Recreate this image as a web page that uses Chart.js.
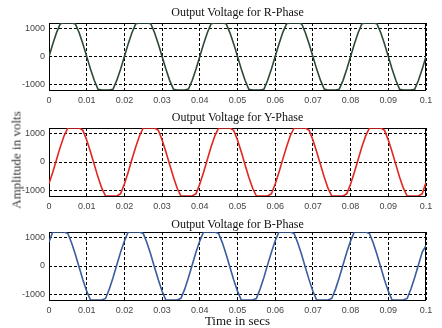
<!DOCTYPE html>
<html>
<head>
<meta charset="utf-8">
<script src="https://cdn.jsdelivr.net/npm/chart.js@4/dist/chart.umd.min.js"></script>
<style>
  html, body { margin: 0; padding: 0; background: #fff; }
  #fig { position: relative; width: 442px; height: 328px; overflow: hidden; background: #fff; }
  #fig canvas { position: absolute; left: 0; }
  .ttl { position: absolute; left: 49px; width: 377px; text-align: center; white-space: nowrap;
         font-family: "Liberation Serif", "Times New Roman", serif; font-size: 12px; font-weight: 400; line-height: 14px; color: #111; }
  .xlab { position: absolute; left: 49px; width: 377px; top: 313px; text-align: center;
          font-family: "Liberation Serif", "Times New Roman", serif; font-size: 13px; font-weight: 400; line-height: 15px; color: #111; }
  .ylab { position: absolute; left: 16px; top: 160px; transform: translate(-50%, -50%) rotate(-90deg); white-space: nowrap;
          font-family: "Liberation Serif", "Times New Roman", serif; font-size: 13px; font-weight: 400; line-height: 15px; color: #333; }
</style>
</head>
<body>
<div id="fig">
  <canvas id="rPlot" width="442" height="110" style="top:0px"></canvas>
  <canvas id="yPlot" width="442" height="105" style="top:110px"></canvas>
  <canvas id="bPlot" width="442" height="113" style="top:215px"></canvas>
  <div class="ttl" style="top:5px">Output Voltage for R-Phase</div>
  <div class="ttl" style="top:110px">Output Voltage for Y-Phase</div>
  <div class="ttl" style="top:217px">Output Voltage for B-Phase</div>
  <div class="ylab">Amplitude in volts</div>
  <div class="xlab">Time in secs</div>
</div>
<script>
// Sample instants (s)
const timeSecs = [
  0, 0.001, 0.002, 0.003, 0.004, 0.005, 0.006, 0.007, 0.008, 0.009,
  0.010, 0.011, 0.012, 0.013, 0.014, 0.015, 0.016, 0.017, 0.018, 0.019,
  0.020, 0.021, 0.022, 0.023, 0.024, 0.025, 0.026, 0.027, 0.028, 0.029,
  0.030, 0.031, 0.032, 0.033, 0.034, 0.035, 0.036, 0.037, 0.038, 0.039,
  0.040, 0.041, 0.042, 0.043, 0.044, 0.045, 0.046, 0.047, 0.048, 0.049,
  0.050, 0.051, 0.052, 0.053, 0.054, 0.055, 0.056, 0.057, 0.058, 0.059,
  0.060, 0.061, 0.062, 0.063, 0.064, 0.065, 0.066, 0.067, 0.068, 0.069,
  0.070, 0.071, 0.072, 0.073, 0.074, 0.075, 0.076, 0.077, 0.078, 0.079,
  0.080, 0.081, 0.082, 0.083, 0.084, 0.085, 0.086, 0.087, 0.088, 0.089,
  0.090, 0.091, 0.092, 0.093, 0.094, 0.095, 0.096, 0.097, 0.098, 0.099,
  0.100
];

// Phase output voltages (V), one value per sample instant
const rPhaseVolts = [
  0, 448, 855, 1172, 1200, 1200, 1200, 1168, 850, 446, 5, -450, -852, -1175, -1200, -1200, -1200, -1170, -848, -444,
  2, 452, 850, 1170, 1200, 1200, 1200, 1172, 854, 450, -3, -446, -855, -1170, -1200, -1200, -1200, -1168, -852, -450,
  0, 446, 852, 1175, 1200, 1200, 1200, 1170, 848, 452, 4, -448, -850, -1172, -1200, -1200, -1200, -1174, -850, -446,
  -2, 450, 856, 1170, 1200, 1200, 1200, 1175, 852, 448, 0, -452, -848, -1168, -1200, -1200, -1200, -1170, -855, -448,
  3, 448, 850, 1172, 1200, 1200, 1200, 1170, 850, 446, -2, -450, -852, -1175, -1200, -1200, -1200, -1172, -850, -452,
  0
];
const yPhaseVolts = [
  -760, -361, 91, 534, 924, 1200, 1200, 1200, 1200, 1117, 777, 361, -91, -534, -924, -1200, -1200, -1200, -1200, -1117,
  -777, -358, 95, 530, 920, 1200, 1200, 1200, 1200, 1120, 780, 365, -88, -530, -928, -1200, -1200, -1200, -1200, -1115,
  -775, -362, 90, 536, 925, 1200, 1200, 1200, 1200, 1114, 775, 358, -94, -536, -920, -1200, -1200, -1200, -1200, -1120,
  -780, -360, 92, 532, 928, 1200, 1200, 1200, 1200, 1118, 778, 362, -90, -532, -925, -1200, -1200, -1200, -1200, -1116,
  -776, -364, 88, 535, 922, 1200, 1200, 1200, 1200, 1116, 776, 360, -92, -535, -924, -1200, -1200, -1200, -1200, -1118,
  -720
];
const bPhaseVolts = [
  850, 1200, 1200, 1200, 1200, 1146, 815, 405, -46, -491, -889, -1200, -1200, -1200, -1200, -1146, -815, -405, 46, 491,
  885, 1200, 1200, 1200, 1200, 1150, 812, 402, -50, -488, -892, -1200, -1200, -1200, -1200, -1142, -818, -408, 42, 495,
  889, 1200, 1200, 1200, 1200, 1144, 818, 408, -44, -494, -886, -1200, -1200, -1200, -1200, -1148, -812, -402, 48, 488,
  892, 1200, 1200, 1200, 1200, 1148, 815, 404, -48, -490, -890, -1200, -1200, -1200, -1200, -1145, -816, -406, 44, 492,
  886, 1200, 1200, 1200, 1200, 1145, 816, 406, -45, -492, -888, -1200, -1200, -1200, -1200, -1146, -814, -404, 46, 490,
  720
];

// Axis ticks
const timeTicks = [0, 0.01, 0.02, 0.03, 0.04, 0.05, 0.06, 0.07, 0.08, 0.09, 0.1];
const timeTickLabels = ['0', '0.01', '0.02', '0.03', '0.04', '0.05', '0.06', '0.07', '0.08', '0.09', '0.1'];
const voltTicks = [-1000, 0, 1000];
const voltTickLabels = ['-1000', '0', '1000'];
const voltRange = [-1200, 1200];
const timeRange = [0, 0.1];

// Solid frame around the plotting area, drawn under the trace
const framePlugin = {
  id: 'frame',
  beforeDatasetsDraw(chart) {
    const { ctx, chartArea: a } = chart;
    ctx.save();
    ctx.strokeStyle = '#000';
    ctx.lineWidth = 1;
    ctx.setLineDash([]);
    ctx.strokeRect(a.left + 0.5, a.top + 0.5, a.right - a.left - 1, a.bottom - a.top);
    ctx.restore();
  }
};

const tickFont = { family: '"Liberation Sans", Arial, sans-serif', size: 9 };

function drawPhase(canvasId, values, color, areaTop, areaBottom, canvasH) {
  const axisH = 20;
  new Chart(document.getElementById(canvasId), {
    type: 'line',
    data: {
      datasets: [{
        data: timeSecs.map((t, i) => ({ x: t, y: values[i] })),
        borderColor: color,
        borderWidth: 1.6,
        pointRadius: 0,
        tension: 0,
        fill: false
      }]
    },
    options: {
      responsive: false,
      animation: false,
      events: [],
      layout: { padding: { top: areaTop, bottom: canvasH - areaBottom - axisH, left: 0, right: 16 } },
      plugins: { legend: { display: false }, tooltip: { enabled: false }, title: { display: false } },
      scales: {
        x: {
          type: 'linear',
          min: timeRange[0],
          max: timeRange[1],
          afterBuildTicks(s) { s.ticks = timeTicks.map(v => ({ value: v })); },
          afterFit(s) { s.height = axisH; },
          ticks: {
            callback: (v, i) => timeTickLabels[i],
            font: tickFont, color: '#444', padding: 5, maxRotation: 0, autoSkip: false
          },
          grid: { color: '#000', lineWidth: 1, drawTicks: false },
          border: { display: false, dash: [3, 2] }
        },
        y: {
          type: 'linear',
          min: voltRange[0],
          max: voltRange[1],
          afterBuildTicks(s) { s.ticks = voltTicks.map(v => ({ value: v })); },
          afterFit(s) { s.width = 49; },
          ticks: {
            callback: (v, i) => voltTickLabels[i],
            font: tickFont, color: '#444', padding: 4
          },
          grid: { color: '#000', lineWidth: 1, drawTicks: false },
          border: { display: false, dash: [3, 2] }
        }
      }
    },
    plugins: [framePlugin]
  });
}

drawPhase('rPlot', rPhaseVolts, '#2c4a36', 23, 90, 110);
drawPhase('yPlot', yPhaseVolts, '#e2261f', 18, 86, 105);
drawPhase('bPlot', bPhaseVolts, '#3a5d9e', 17, 85, 113);
</script>
</body>
</html>
